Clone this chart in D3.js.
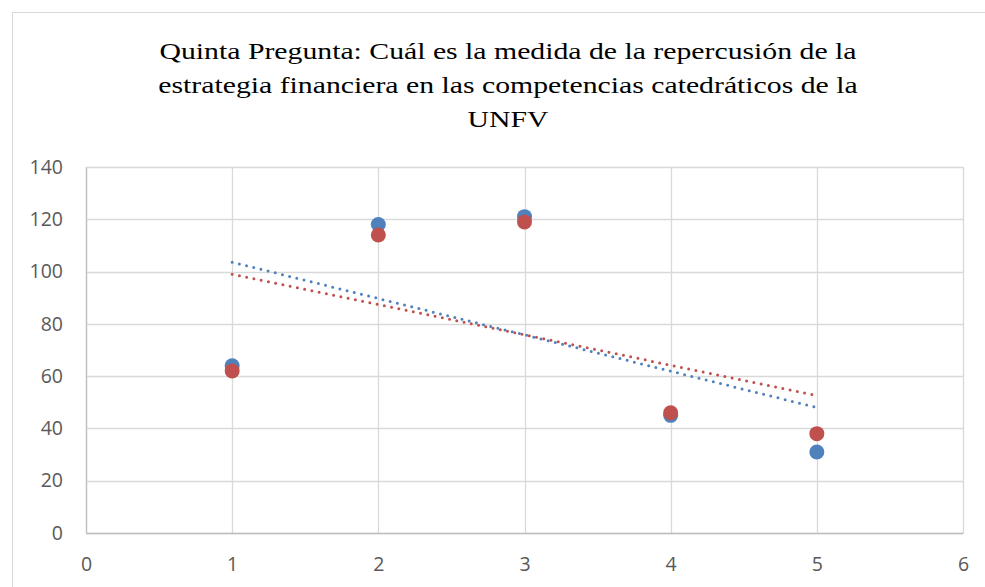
<!DOCTYPE html>
<html>
<head>
<meta charset="utf-8">
<script src="https://cdn.jsdelivr.net/npm/d3@7"></script>
<style>
  body { margin: 0; background: #fff; }
  svg { display: block; }
</style>
</head>
<body>
<svg id="chart" width="985" height="587"></svg>
<script>
// data
const xValues = [1, 2, 3, 4, 5];
const serie1 = [64, 118, 121, 45, 31];   // azul
const serie2 = [62, 114, 119, 46, 38];   // rojo
const xTicks = [0, 1, 2, 3, 4, 5, 6];
const yTicks = [0, 20, 40, 60, 80, 100, 120, 140];
const titleLines = [
    "Quinta Pregunta: Cuál es la medida de la repercusión de la",
    "estrategia financiera en las competencias catedráticos de la",
    "UNFV"
];

const colors = ["#4f81bd", "#c0504d"];

const margin = { top: 167, right: 22, bottom: 54, left: 86 };
const W = 985, H = 587;
const width = W - margin.left - margin.right;
const height = H - margin.top - margin.bottom;

const svg = d3.select("#chart");

// outer chart border (only left/top visible in the crop)
svg.append("rect")
    .attr("x", 12.5).attr("y", 12.5)
    .attr("width", 1000).attr("height", 1000)
    .attr("fill", "none")
    .attr("stroke", "#d9d9d9")
    .attr("stroke-width", 1);

// title is stretched wide in the original picture
svg.append("g")
    .attr("transform", "translate(508,0) scale(1.24,1)")
    .selectAll("text")
    .data(titleLines)
    .enter()
    .append("text")
    .attr("x", 0)
    .attr("y", (d, i) => 59 + i * 34)
    .attr("text-anchor", "middle")
    .attr("font-family", "'Liberation Serif', 'Times New Roman', serif")
    .attr("font-size", "24px")
    .attr("fill", "#000")
    .text(d => d);

const g = svg.append("g")
    .attr("transform", `translate(${margin.left},${margin.top})`);

const x = d3.scaleLinear().domain([0, 6]).range([0, width]);
const y = d3.scaleLinear().domain([0, 140]).range([height, 0]);

// grid
g.append("g")
    .selectAll("line")
    .data(yTicks)
    .enter()
    .append("line")
    .attr("x1", 0).attr("x2", width)
    .attr("y1", d => Math.round(y(d)) + 0.5)
    .attr("y2", d => Math.round(y(d)) + 0.5)
    .attr("stroke", "#d9d9d9")
    .attr("stroke-width", 1.3);

g.append("g")
    .selectAll("line")
    .data(xTicks)
    .enter()
    .append("line")
    .attr("x1", d => Math.round(x(d)) + 0.5)
    .attr("x2", d => Math.round(x(d)) + 0.5)
    .attr("y1", 0).attr("y2", height)
    .attr("stroke", "#d9d9d9")
    .attr("stroke-width", 1.3);

// axes
const xAxis = g.append("g")
    .attr("transform", `translate(0,${height})`)
    .call(d3.axisBottom(x).tickValues(xTicks).tickFormat(d3.format("d")).tickSize(0).tickPadding(24));
xAxis.select(".domain").attr("stroke", "#bfbfbf").attr("stroke-width", 1.3);

const yAxis = g.append("g")
    .call(d3.axisLeft(y).tickValues(yTicks).tickFormat(d3.format("d")).tickSize(0).tickPadding(23));
yAxis.select(".domain").attr("stroke", "#bfbfbf").attr("stroke-width", 1.3);

svg.selectAll(".tick text")
    .attr("font-family", "'Open Sans', 'Liberation Sans', sans-serif")
    .attr("font-size", "19.5px")
    .attr("fill", "#595959");

// linear trendlines (least squares, like the spreadsheet)
function trend(xs, ys) {
    const n = xs.length;
    const mx = d3.mean(xs), my = d3.mean(ys);
    let num = 0, den = 0;
    for (let i = 0; i < n; i++) {
        num += (xs[i] - mx) * (ys[i] - my);
        den += (xs[i] - mx) * (xs[i] - mx);
    }
    const b = num / den;
    const a = my - b * mx;
    return [d3.min(xs), d3.max(xs)].map(v => [v, a + b * v]);
}

const series = [serie1, serie2];

series.forEach((s, i) => {
    g.append("path")
        .datum(trend(xValues, s))
        .attr("d", d3.line().x(d => x(d[0])).y(d => y(d[1])))
        .attr("fill", "none")
        .attr("stroke", colors[i])
        .attr("stroke-width", 3)
        .attr("stroke-linecap", "round")
        .attr("stroke-dasharray", "0,7.4");
});

series.forEach((s, i) => {
    g.append("g")
        .selectAll("circle")
        .data(s)
        .enter()
        .append("circle")
        .attr("cx", (d, j) => x(xValues[j]))
        .attr("cy", d => y(d))
        .attr("r", 7.5)
        .attr("fill", colors[i]);
});
</script>
</body>
</html>
